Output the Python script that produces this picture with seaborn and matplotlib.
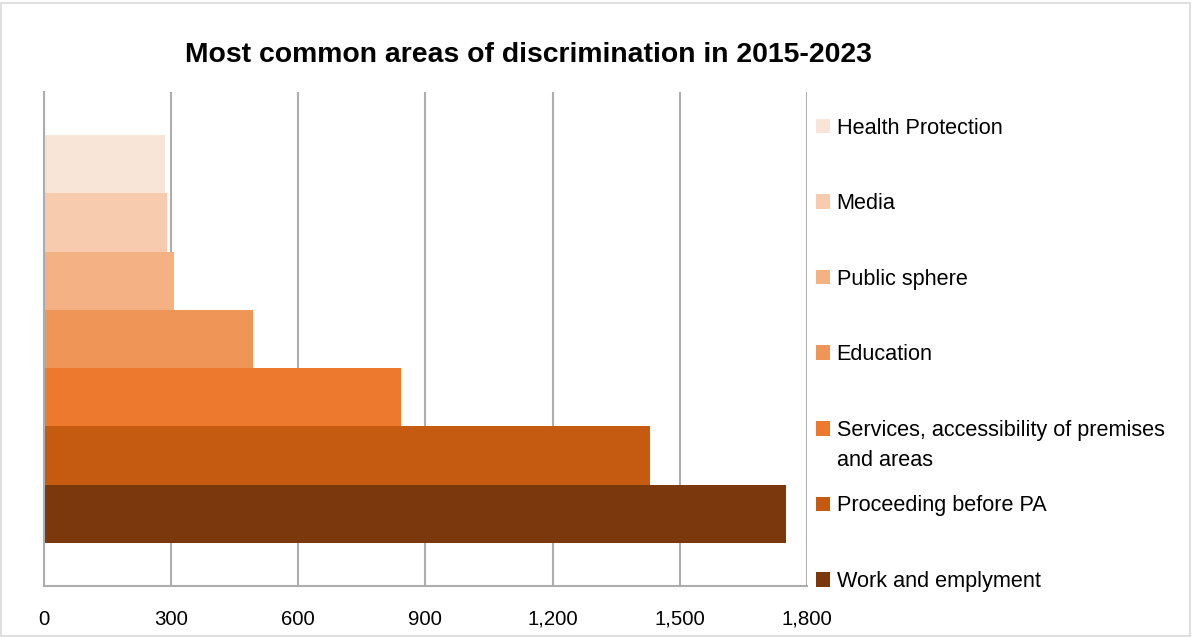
import matplotlib
matplotlib.use("Agg")
import matplotlib.pyplot as plt
from matplotlib.patches import Patch, Rectangle
from matplotlib.ticker import FuncFormatter
import seaborn as sns
import pandas as pd

# Areas of discrimination, top to bottom, with case counts 2015-2023
areas = [
    "Health Protection",
    "Media",
    "Public sphere",
    "Education",
    "Services, accessibility of premises and areas",
    "Proceeding before PA",
    "Work and emplyment",
]
cases = [287, 291, 308, 494, 842, 1431, 1751]
colors = ["#F9E5D8", "#F7CBAD", "#F4B183", "#F09558", "#EC792D", "#C55A11", "#7B380C"]
x_ticks = [0, 300, 600, 900, 1200, 1500, 1800]

df = pd.DataFrame({"area": areas, "cases": cases})

sns.set_theme(style="white")
plt.rcParams["font.family"] = ["Liberation Sans", "DejaVu Sans"]

W, H = 1194, 637
fig = plt.figure(figsize=(W / 100, H / 100), dpi=100)
fig.patch.set_facecolor("white")

ax = fig.add_axes([43.5 / W, 51 / H, (807 - 43.5) / W, 494 / H])
sns.barplot(
    data=df, y="area", x="cases", hue="area", order=areas, hue_order=areas,
    palette=dict(zip(areas, colors)), width=1.0, saturation=1, dodge=False,
    legend=False, linewidth=0, edgecolor="none", ax=ax,
)

ax.set_xlim(0, 1800)
ax.set_ylim(7.24, -1.24)
ax.set_xticks(x_ticks)
ax.xaxis.set_major_formatter(FuncFormatter(lambda v, p: f"{int(v):,}"))
ax.set_yticks([])
ax.set_xlabel("")
ax.set_ylabel("")
ax.tick_params(axis="x", length=0, pad=17, labelsize=14.7, labelcolor="black")

grid_c = "#ADADAD"
ax.xaxis.grid(True, color=grid_c, linewidth=1.5)
ax.set_axisbelow(True)
for side in ("top", "right"):
    ax.spines[side].set_visible(False)
for side in ("left", "bottom"):
    ax.spines[side].set_color(grid_c)
    ax.spines[side].set_linewidth(1.5)

fig.text(528.5 / W, 1 - 62 / H, "Most common areas of discrimination in 2015-2023",
         ha="center", va="baseline", fontsize=20.4, fontweight="bold", color="black")

# Legend: one entry per area; the long label wraps onto a second line
first_lines = [a if not a.startswith("Services") else "Services, accessibility of premises"
               for a in areas]
handles = [Patch(facecolor=c, edgecolor="none") for c in colors]
leg = fig.legend(
    handles, first_lines, loc="upper left",
    bbox_to_anchor=(816 / W, 1 - 117.5 / H), frameon=False, fontsize=15.6,
    handlelength=0.65, handleheight=0.65, handletextpad=0.3,
    labelspacing=2.52, borderpad=0, borderaxespad=0,
)
for t in leg.get_texts():
    t.set_color("black")

fig.canvas.draw()
bb = leg.get_texts()[4].get_window_extent()
fig.text(bb.x0 / W, (bb.y0 - 9) / H, "and areas", ha="left", va="top",
         fontsize=15.6, color="black")

# Thin frame around the whole chart
fig.add_artist(Rectangle((0.001, 0.002), 0.996, 0.993, transform=fig.transFigure,
                         fill=False, edgecolor="#D9D9D9", linewidth=1.2))

fig.savefig("out.png", dpi=100)
